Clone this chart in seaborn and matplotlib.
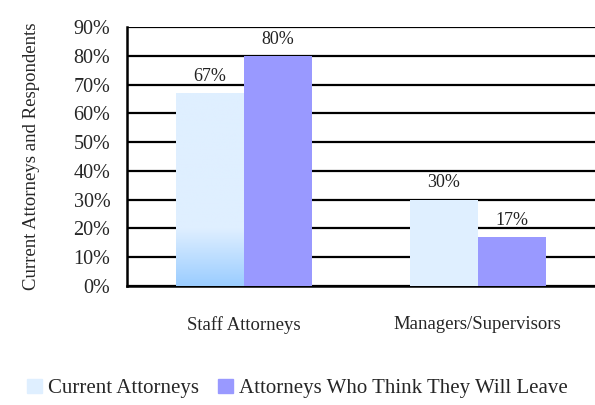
import matplotlib
matplotlib.use('Agg')

import numpy as np
import pandas as pd
import matplotlib.pyplot as plt
from matplotlib.colors import LinearSegmentedColormap
from matplotlib.patches import Patch
import seaborn as sns

groups = ['Staff Attorneys', 'Managers/Supervisors']
series = ['Current Attorneys', 'Attorneys Who Think They Will Leave']
current = [67, 30]
leave = [80, 17]

df = pd.DataFrame({
    'group': groups * 2,
    'series': [series[0]] * 2 + [series[1]] * 2,
    'pct': current + leave,
})

sns.set_style('white')
plt.rcParams['font.family'] = ['Liberation Serif', 'DejaVu Serif']

fig = plt.figure(figsize=(5.95, 4.05), dpi=100)
ax = fig.add_axes([0.2134, 0.294, 0.786, 0.639])

pal = {series[0]: '#DFEFFF', series[1]: '#9999FF'}
sns.barplot(data=df, x='group', y='pct', hue='series', hue_order=series,
            palette=pal, width=0.58, saturation=1, ax=ax, legend=False,
            linewidth=0, zorder=3)

# the first bar has a soft gradient at its foot
bar = ax.containers[0][0]
x0, w, h = bar.get_x(), bar.get_width(), bar.get_height()
yy = np.linspace(0, h, 200)
t = np.clip(1 - yy / 20.0, 0, 1)
cmap = LinearSegmentedColormap.from_list('g', ['#DFEFFF', '#9BCDFF'])
img = ax.imshow(t[:, None], extent=(x0, x0 + w, 0, h), origin='lower',
                cmap=cmap, vmin=0, vmax=1, aspect='auto', zorder=3.5)
img.set_clip_path(bar)
ax.set_xlim(-0.5, 1.5)

for cont in ax.containers:
    for b in cont:
        v = b.get_height()
        ax.annotate(f'{v:.0f}%', (b.get_x() + b.get_width() / 2, v),
                    xytext=(0, 6), textcoords='offset points',
                    ha='center', va='bottom', fontsize=13, color='#222222', zorder=5)

ax.set_ylim(0, 90)
ax.set_yticks(range(0, 91, 10))
ax.set_yticklabels([f'{v}%' for v in range(0, 91, 10)], fontsize=14.5)
ax.yaxis.grid(True, color='black', linewidth=1.6, zorder=0)
ax.set_axisbelow(True)
ax.tick_params(axis='y', length=0, pad=12)
ax.tick_params(axis='x', length=0, pad=22, labelsize=13.5)
for s in ['top', 'right']:
    ax.spines[s].set_visible(False)
for s in ['left', 'bottom']:
    ax.spines[s].set_color('black')
    ax.spines[s].set_linewidth(1.8)
ax.set_xlabel('')
ax.set_ylabel('Current Attorneys and Respondents', fontsize=13.5, labelpad=24)

handles = [Patch(color=pal[s]) for s in series]
fig.legend(handles, series, loc='lower center', bbox_to_anchor=(0.5, -0.03),
           ncol=2, frameon=False, fontsize=15, handlelength=0.7, handleheight=0.7,
           handletextpad=0.3, columnspacing=0.9)

fig.savefig('out.png', dpi=100)
